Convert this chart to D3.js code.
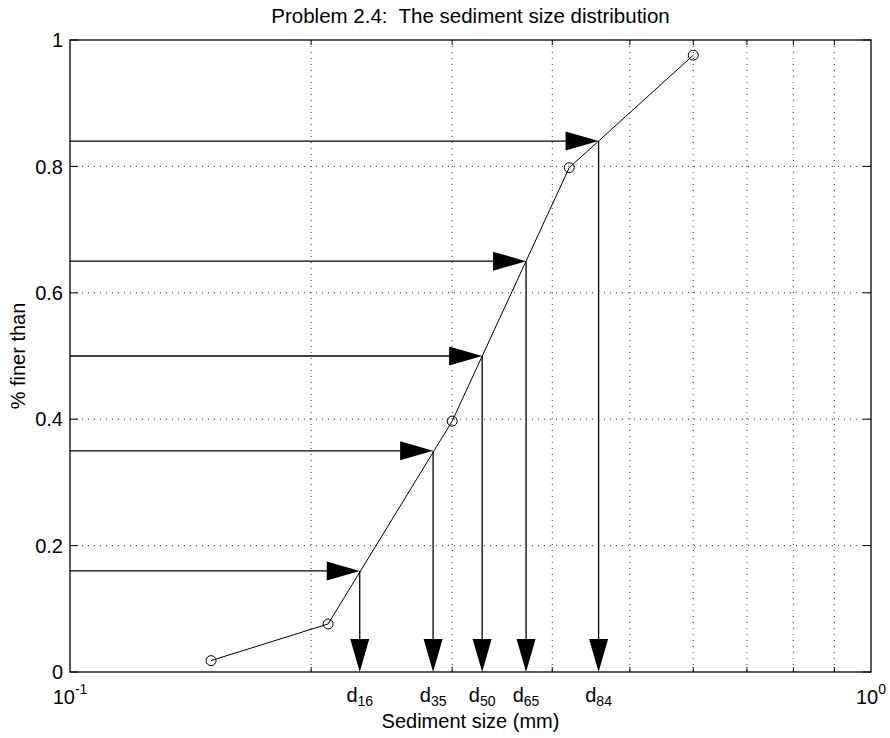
<!DOCTYPE html>
<html>
<head>
<meta charset="utf-8">
<script src="https://cdn.jsdelivr.net/npm/d3@7"></script>
<style>
  html, body { margin: 0; padding: 0; background: #fff; }
  svg { display: block; font-family: "Liberation Sans", Arial, Helvetica, sans-serif; }
  text { white-space: pre; }
</style>
</head>
<body>
<svg id="chart" width="890" height="738"></svg>
<script>
// Sieve analysis: grain size (mm) versus cumulative fraction finer
const sizes = [0.15, 0.21, 0.30, 0.42, 0.60];
const finer = [0.018, 0.076, 0.397, 0.798, 0.976];

// Characteristic diameters
const dNames = ["16", "35", "50", "65", "84"];
const dFractions = [0.16, 0.35, 0.50, 0.65, 0.84];
const dSizes = [0.230, 0.284, 0.327, 0.371, 0.457];

const yTicks = [0, 0.2, 0.4, 0.6, 0.8, 1];
const yTickLabels = ["0", "0.2", "0.4", "0.6", "0.8", "1"];
const xGrid = [0.2, 0.3, 0.4, 0.5, 0.6, 0.7, 0.8, 0.9];
const xTicks = [0.1, 1];
const xTickExp = ["-1", "0"];

const titleText = "Problem 2.4:  The sediment size distribution";
const xLabel = "Sediment size (mm)";
const yLabel = "% finer than";

const svg = d3.select("#chart");
const plotL = 70, plotR = 871, plotT = 40, plotB = 672;

const x = d3.scaleLog().domain([0.1, 1]).range([plotL, plotR]);
const y = d3.scaleLinear().domain([0, 1]).range([plotB, plotT]);

// dotted grid
const grid = svg.append("g")
  .attr("stroke", "#333").attr("stroke-width", 1)
  .attr("stroke-dasharray", "1,5");
grid.selectAll("line.gx").data(xGrid).join("line")
  .attr("x1", d => x(d)).attr("x2", d => x(d))
  .attr("y1", plotT).attr("y2", plotB);
grid.selectAll("line.gy").data(yTicks.filter(d => d > 0 && d < 1)).join("line")
  .attr("x1", plotL).attr("x2", plotR)
  .attr("y1", d => y(d)).attr("y2", d => y(d));

// inward tick marks on all four edges
const tk = svg.append("g").attr("stroke", "#000").attr("stroke-width", 1);
tk.selectAll("line.l").data(yTicks).join("line")
  .attr("x1", plotL).attr("x2", plotL + 8)
  .attr("y1", d => y(d)).attr("y2", d => y(d));
tk.selectAll("line.r").data(yTicks).join("line")
  .attr("x1", plotR).attr("x2", plotR - 8)
  .attr("y1", d => y(d)).attr("y2", d => y(d));
tk.selectAll("line.b").data(xGrid).join("line")
  .attr("x1", d => x(d)).attr("x2", d => x(d))
  .attr("y1", plotB).attr("y2", plotB - 5);
tk.selectAll("line.t").data(xGrid).join("line")
  .attr("x1", d => x(d)).attr("x2", d => x(d))
  .attr("y1", plotT).attr("y2", plotT + 5);

// frame
svg.append("rect")
  .attr("x", plotL).attr("y", plotT)
  .attr("width", plotR - plotL).attr("height", plotB - plotT)
  .attr("fill", "none").attr("stroke", "#000").attr("stroke-width", 1.3);

// y tick labels
svg.append("g").selectAll("text").data(yTicks).join("text")
  .attr("x", plotL - 7).attr("y", d => y(d)).attr("dy", "0.36em")
  .attr("text-anchor", "end").attr("font-size", 20)
  .text((d, i) => yTickLabels[i]);

// x tick labels (powers of ten)
const xt = svg.append("g").selectAll("text").data(xTicks).join("text")
  .attr("x", d => x(d)).attr("y", 704)
  .attr("text-anchor", "middle").attr("font-size", 20);
xt.append("tspan").text("10");
xt.append("tspan").attr("font-size", 14).attr("dy", -10).text((d, i) => xTickExp[i]);

// arrows: across from the axis to the curve, then down to the size axis
const headLen = 33, headHalf = 9.5;
const arrows = svg.append("g");
dFractions.forEach((f, i) => {
  const px = x(dSizes[i]), py = y(f), by = y(0);
  arrows.append("line")
    .attr("x1", x(0.1)).attr("x2", px - headLen + 2)
    .attr("y1", py).attr("y2", py)
    .attr("stroke", "#000").attr("stroke-width", 1.3);
  arrows.append("path")
    .attr("d", `M${px},${py}L${px - headLen},${py - headHalf}L${px - headLen},${py + headHalf}Z`)
    .attr("fill", "#000");
  arrows.append("line")
    .attr("x1", px).attr("x2", px)
    .attr("y1", py).attr("y2", by - headLen + 2)
    .attr("stroke", "#000").attr("stroke-width", 1.3);
  arrows.append("path")
    .attr("d", `M${px},${by}L${px - headHalf},${by - headLen}L${px + headHalf},${by - headLen}Z`)
    .attr("fill", "#000");
});

// distribution curve with open circle markers
const pts = sizes.map((s, i) => [s, finer[i]]);
svg.append("path")
  .datum(pts)
  .attr("d", d3.line().x(d => x(d[0])).y(d => y(d[1])))
  .attr("fill", "none").attr("stroke", "#000").attr("stroke-width", 1);
svg.append("g").selectAll("circle").data(pts).join("circle")
  .attr("cx", d => x(d[0])).attr("cy", d => y(d[1])).attr("r", 5)
  .attr("fill", "none").attr("stroke", "#000").attr("stroke-width", 1);

// d labels under the arrows
const dl = svg.append("g").selectAll("text").data(dSizes).join("text")
  .attr("x", d => x(d)).attr("y", 702)
  .attr("text-anchor", "middle").attr("font-size", 20);
dl.append("tspan").text("d");
dl.append("tspan").attr("font-size", 14).attr("dy", 4).text((d, i) => dNames[i]);

// title and axis labels
svg.append("text")
  .attr("x", (plotL + plotR) / 2).attr("y", 23)
  .attr("text-anchor", "middle").attr("font-size", 20.5)
  .text(titleText);
svg.append("text")
  .attr("x", (plotL + plotR) / 2).attr("y", 728)
  .attr("text-anchor", "middle").attr("font-size", 20)
  .text(xLabel);
svg.append("text")
  .attr("transform", `translate(25,${(plotT + plotB) / 2}) rotate(-90)`)
  .attr("text-anchor", "middle").attr("font-size", 20)
  .text(yLabel);
</script>
</body>
</html>
